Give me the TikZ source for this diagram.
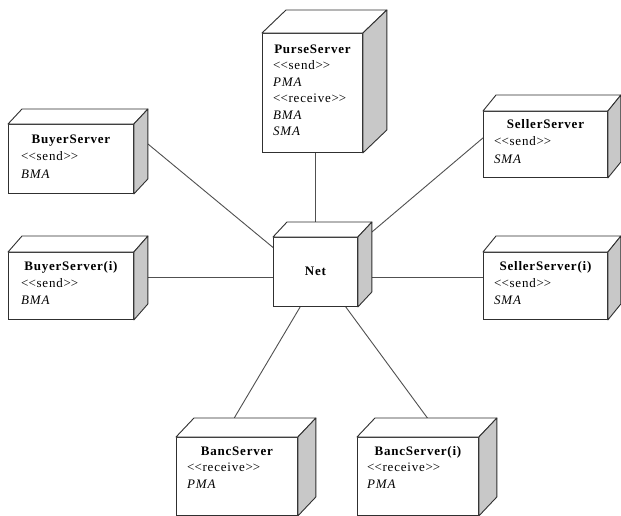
\documentclass[tikz,border=0pt]{standalone}
\usepackage{fontspec}
\setmainfont{Liberation Serif}[Ligatures=TeXOff, LetterSpace=6]
\usetikzlibrary{backgrounds,calc}

\definecolor{edgecol}{HTML}{303030}
\definecolor{sidecol}{HTML}{C8C8C8}
\definecolor{linkcol}{HTML}{505050}

% stereotype label such as <<send>>
\newcommand{\stereo}[1]{<\kern0pt<#1>\kern0pt>}

\tikzset{
  face/.style={draw=edgecol, fill=white, line width=0.9pt, rectangle,
    inner sep=0pt, anchor=north west},
  topface/.style={draw=edgecol, fill=white, line width=0.9pt, line join=round},
  sideface/.style={draw=edgecol, fill=sidecol, line width=0.9pt, line join=round},
  link/.style={draw=linkcol, line width=0.9pt},
  title/.style={font=\fontsize{13}{16}\selectfont\bfseries, anchor=base, inner sep=0pt},
  body/.style={font=\fontsize{13}{16}\selectfont, anchor=base west, inner sep=0pt},
}

% deployment node: name, x, y, width, height, depth x, depth y
\newcommand{\serverbox}[7]{%
  \node[face, minimum width=#4, minimum height=#5] (#1) at (#2,#3) {};
  \draw[topface] (#1.north west) -- ++(#6,-#7)
    -- ([shift={(#6,-#7)}]#1.north east) -- (#1.north east) -- cycle;
  \draw[sideface] (#1.north east) -- ++(#6,-#7)
    -- ([shift={(#6,-#7)}]#1.south east) -- (#1.south east) -- cycle;
}
% title: box, baseline offset, text
\newcommand{\boxtitle}[3]{%
  \node[title] (#1-title) at ([yshift=-#2pt]#1.north) {#3};}
% body line: box, line id, left margin, baseline offset, text
\newcommand{\boxline}[5]{%
  \node[body] (#1-#2) at ([xshift=#3pt, yshift=-#4pt]#1.north west) {#5};}

\begin{document}
\begin{tikzpicture}[x=1pt, y=-1pt]
  \useasboundingbox (0,0) rectangle (621,515);
  \clip (0,0) rectangle (621,515);

  % PurseServer
  \serverbox{purse}{262}{33}{100}{119}{24}{23}
  \boxtitle{purse}{20}{PurseServer}
  \boxline{purse}{l1}{11}{36.5}{\stereo{send}}
  \boxline{purse}{l2}{11}{53}{\textit{PMA}}
  \boxline{purse}{l3}{11}{69.5}{\stereo{receive}}
  \boxline{purse}{l4}{11}{86}{\textit{BMA}}
  \boxline{purse}{l5}{11}{102.5}{\textit{SMA}}

  % BuyerServer
  \serverbox{buyer}{8}{124}{125}{69}{14}{15}
  \boxtitle{buyer}{19}{BuyerServer}
  \boxline{buyer}{l1}{13}{36}{\stereo{send}}
  \boxline{buyer}{l2}{13}{54}{\textit{BMA}}

  % BuyerServer(i)
  \serverbox{buyeri}{8}{252}{125}{67}{14}{16}
  \boxtitle{buyeri}{18}{BuyerServer(i)}
  \boxline{buyeri}{l1}{13}{35}{\stereo{send}}
  \boxline{buyeri}{l2}{13}{52}{\textit{BMA}}

  % SellerServer
  \serverbox{seller}{483}{111}{124}{66}{13}{16}
  \boxtitle{seller}{17}{SellerServer}
  \boxline{seller}{l1}{11}{34}{\stereo{send}}
  \boxline{seller}{l2}{11}{52}{\textit{SMA}}

  % SellerServer(i)
  \serverbox{selleri}{483}{252}{124}{67}{13}{16}
  \boxtitle{selleri}{18}{SellerServer(i)}
  \boxline{selleri}{l1}{11}{35}{\stereo{send}}
  \boxline{selleri}{l2}{11}{52}{\textit{SMA}}

  % BancServer
  \serverbox{banc}{176}{437}{121}{78}{18}{19}
  \boxtitle{banc}{18}{BancServer}
  \boxline{banc}{l1}{11}{34}{\stereo{receive}}
  \boxline{banc}{l2}{11}{51}{\textit{PMA}}

  % BancServer(i)
  \serverbox{banci}{357}{437}{121}{78}{18}{19}
  \boxtitle{banci}{18}{BancServer(i)}
  \boxline{banci}{l1}{10}{34}{\stereo{receive}}
  \boxline{banci}{l2}{10}{51}{\textit{PMA}}

  % Net
  \serverbox{net}{273}{237}{84}{69}{14}{15}
  \node[title, anchor=center] (net-title) at ([yshift=1pt]net.center) {Net};

  % links to the net
  \begin{scope}[on background layer]
    \fill[white] (0,0) rectangle (621,515);
    \draw[link] (net.north) -- (net.north |- purse.south);
    \draw[link] (net.150) -- ([shift={(14,-15)}]buyer.east);
    \draw[link] (net.187) -- (net.187 -| buyeri.east);
    \draw[link] ([shift={(14,-5)}]net.north east) -- (seller.174);
    \draw[link] (net.187) -- (net.187 -| selleri.west);
    \draw[link] ($(net.south west)!0.32!(net.south east)$)
      -- ($([shift={(18,-19)}]banc.north west)!0.33!([shift={(18,-19)}]banc.north east)$);
    \draw[link] ($(net.south west)!0.857!(net.south east)$)
      -- ($([shift={(18,-19)}]banci.north west)!0.43!([shift={(18,-19)}]banci.north east)$);
  \end{scope}
\end{tikzpicture}
\end{document}
